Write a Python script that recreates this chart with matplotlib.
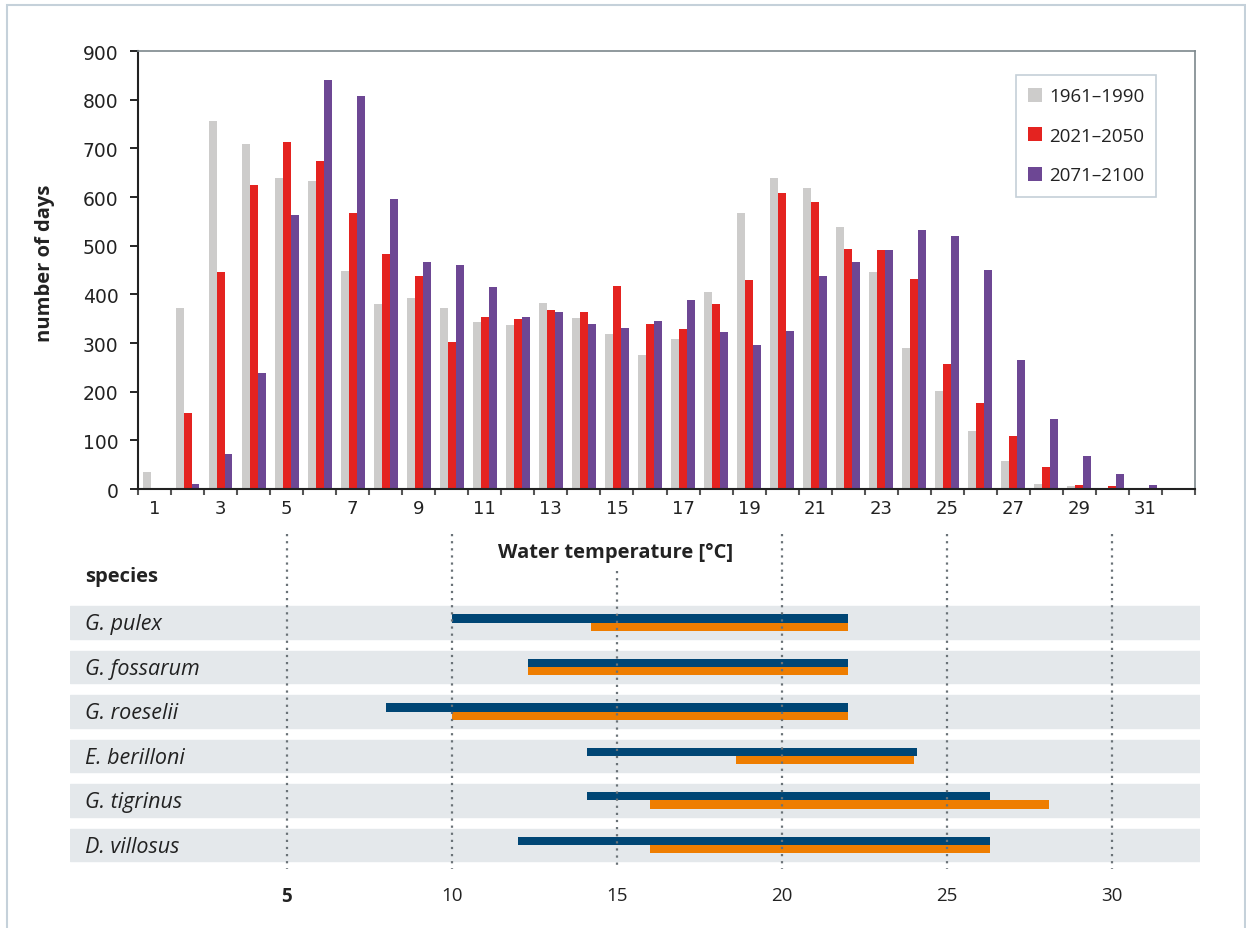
import matplotlib
matplotlib.use("Agg")
import matplotlib.pyplot as plt
import matplotlib.patches as mpatches
import numpy as np

plt.rcParams["font.family"] = ["Open Sans", "DejaVu Sans"]

# Anzahl Tage je Wassertemperatur (1..32 °C)
temps = list(range(1, 33))
days_1961 = [35, 372, 756, 708, 639, 632, 448, 380, 392, 372, 343, 337, 382, 351, 318, 275,
             308, 405, 567, 639, 618, 538, 446, 290, 201, 119, 58, 10, 6, 0, 0, 0]
days_2021 = [0, 156, 446, 624, 712, 673, 567, 483, 437, 302, 353, 349, 368, 363, 417, 339,
             329, 380, 429, 608, 589, 493, 491, 431, 257, 177, 109, 45, 8, 6, 0, 0]
days_2071 = [0, 10, 72, 238, 563, 840, 807, 595, 466, 460, 415, 353, 363, 339, 331, 345,
             388, 322, 296, 324, 437, 466, 491, 532, 520, 450, 265, 144, 68, 31, 8, 2]
periods = ["1961–1990", "2021–2050", "2071–2100"]

# Temperaturbereiche der Arten
species = ["G. pulex", "G. fossarum", "G. roeselii", "E. berilloni", "G. tigrinus", "D. villosus"]
blue_lo = [10.0, 12.3, 8.0, 14.1, 14.1, 12.0]
blue_hi = [22.0, 22.0, 22.0, 24.1, 26.3, 26.3]
orange_lo = [14.2, 12.3, 10.0, 18.6, 16.0, 16.0]
orange_hi = [22.0, 22.0, 22.0, 24.0, 28.1, 26.3]
guide_temps = [5, 10, 15, 20, 25, 30]

GRAY = "#cdcccb"
RED = "#e42320"
PURPLE = "#6d4794"
BLUE = "#004675"
ORANGE = "#ee7d00"
ROWBG = "#e4e8eb"
DOTS = "#6a7277"
TXT = "#222222"
NUMFONT = ["DejaVu Sans"]

W, H = 1246, 929
fig = plt.figure(figsize=(W / 100, H / 100), dpi=100)

# Rahmen
fig.patches.append(mpatches.Rectangle((7 / W, -0.05), (1245 - 7) / W, 1.05 - 6 / H,
                                      transform=fig.transFigure, fill=False,
                                      edgecolor="#c5d1da", linewidth=1.5))

# --- oberes Diagramm ---
ax = fig.add_axes([138 / W, 1 - 490 / H, 1057 / W, 438 / H])
x = np.array(temps)
bw = 0.24
ax.bar(x - bw, days_1961, width=bw, color=GRAY, label=periods[0])
ax.bar(x, days_2021, width=bw, color=RED, label=periods[1])
ax.bar(x + bw, days_2071, width=bw, color=PURPLE, label=periods[2])

ax.set_xlim(0.5, 32.5)
ax.set_ylim(0, 900)
ax.set_yticks(range(0, 901, 100))
ax.set_xticks(np.arange(0.5, 33, 1))
ax.set_xticklabels([])
ax.set_xticks(temps[::2], minor=True)
ax.set_xticklabels([str(t) for t in temps[::2]], minor=True)
ax.tick_params(axis="x", which="major", length=4.5, width=1.5, color="#555555")
ax.tick_params(axis="x", which="minor", length=0, pad=7, labelsize=13, labelcolor=TXT)
ax.tick_params(axis="y", length=6, width=1.2, pad=8, labelsize=13.5, labelcolor=TXT)
for lab in ax.get_yticklabels() + ax.get_xticklabels(minor=True):
    lab.set_fontfamily(NUMFONT)
for s in ["left", "bottom"]:
    ax.spines[s].set_color(TXT)
    ax.spines[s].set_linewidth(1.5)
for s in ["top", "right"]:
    ax.spines[s].set_color("#7d878c")
    ax.spines[s].set_linewidth(1.2)

leg = ax.legend(loc="upper left", bbox_to_anchor=((1016 - 138) / 1057, (490 - 76) / 438),
                fontsize=13.5, frameon=True, fancybox=False, framealpha=1,
                edgecolor="#c5d0d8", handlelength=0.75, handleheight=0.75,
                handletextpad=0.35, labelspacing=1.15, borderpad=0.65, borderaxespad=0)
leg.get_frame().set_linewidth(1.2)
for t in leg.get_texts():
    t.set_color(TXT)

fig.text(45 / W, 1 - 263 / H, "number of days", rotation=90, ha="center", va="center",
         fontsize=14.5, fontweight="bold", color=TXT)

# --- unteres Diagramm ---
bx = fig.add_axes([70 / W, 1 - 870 / H, 1130 / W, 335 / H])
bx.set_xlim((70 - 122) / 33, (1200 - 122) / 33)
top_y = -1.99
bx.set_ylim(5.54, top_y)
rows = np.arange(len(species))
for i in rows:
    bx.axhspan(i - 0.37, i + 0.37, color=ROWBG, zorder=0)
bh = 0.19
bx.barh(rows - bh / 2, np.array(blue_hi) - np.array(blue_lo), left=blue_lo, height=bh,
        color=BLUE, zorder=2)
bx.barh(rows + bh / 2, np.array(orange_hi) - np.array(orange_lo), left=orange_lo, height=bh,
        color=ORANGE, zorder=2)
for t in guide_temps:
    y0 = -1.16 if t == 15 else top_y
    bx.vlines(t, y0, 5.54, colors=DOTS, linestyles=(0, (1, 2.2)), linewidth=1.6, zorder=3)
for i, name in zip(rows, species):
    bx.text(-1.12, i + 0.03, name, ha="left", va="center", fontsize=15.5, style="italic",
            color=TXT, zorder=4)
bx.text(-1.12, -1.05, "species", ha="left", va="center", fontsize=14.5, fontweight="bold",
        color=TXT)

bx.set_xticks(guide_temps)
bx.set_xticklabels([str(t) for t in guide_temps])
bx.get_xticklabels()[0].set_fontweight("bold")
bx.tick_params(axis="x", length=0, pad=12, labelsize=13.5, labelcolor=TXT)
bx.set_yticks([])
for s in bx.spines.values():
    s.set_visible(False)

fig.text(616 / W, 1 - 553 / H, "Water temperature [°C]", ha="center", va="center",
         fontsize=14.5, fontweight="bold", color=TXT)

fig.savefig("out.png", dpi=100)
